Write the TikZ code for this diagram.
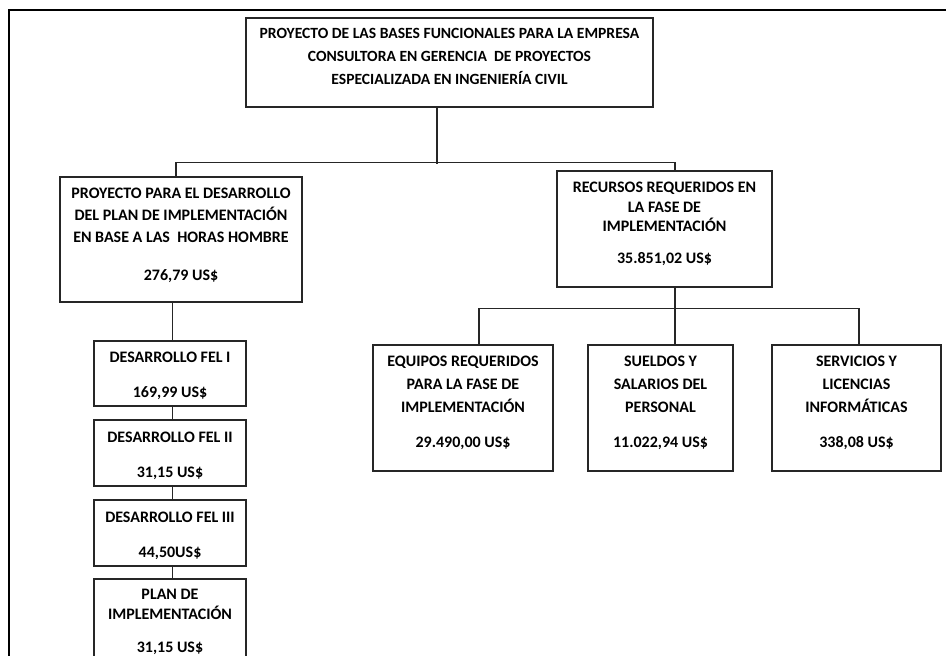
\documentclass[tikz,border=0pt]{standalone}
\usepackage{fontspec}
\setmainfont{Carlito}
\usetikzlibrary{positioning}
\newcommand{\lift}[1]{\rule[-#1]{0pt}{0pt}}
\newcommand{\drop}[1]{\rule{0pt}{#1}}

\begin{document}
\begin{tikzpicture}[
  x=1pt,y=-1pt,
  box/.style={draw=black!85,line width=1.2pt,fill=white,align=center,inner sep=0pt,
    font=\bfseries\fontsize{16}{22}\selectfont},
  link/.style={draw=black!85,line width=1.3pt},
  frame/.style={draw=black,line width=2pt}]
\path[use as bounding box] (0,0) rectangle (946,656);
\draw[frame] (960,10) -| (9,680);
% top of the tree
\node[box,minimum width=407pt,minimum height=89pt,font=\bfseries\fontsize{15.6}{23}\selectfont] (top) at (449.5,62.5)
  {PROYECTO DE LAS BASES FUNCIONALES PARA LA EMPRESA\\
   CONSULTORA EN GERENCIA\ \ DE PROYECTOS\\
   ESPECIALIZADA EN INGENIERÍA CIVIL\lift{12pt}};
\node[box,minimum width=242pt,minimum height=125pt] (horas) at (181,239.5)
  {PROYECTO PARA EL DESARROLLO\\
   DEL PLAN DE IMPLEMENTACIÓN\\
   EN BASE A LAS\ \ HORAS HOMBRE\\[16pt]
   276,79 US\$\lift{11pt}};
\node[box,minimum width=215pt,minimum height=116pt,font=\bfseries\fontsize{16}{19.5}\selectfont] (recursos) at (664.5,229)
  {RECURSOS REQUERIDOS EN\\
   LA FASE DE\\
   IMPLEMENTACIÓN\\[12.5pt]
   35.851,02 US\$\lift{12pt}};
% resources
\node[box,minimum width=180pt,minimum height=126pt,font=\bfseries\fontsize{16}{23}\selectfont] (equipos) at (463,408)
  {EQUIPOS REQUERIDOS\\
   PARA LA FASE DE\\
   IMPLEMENTACIÓN\\[12pt]
   29.490,00 US\$\lift{12pt}};
\node[box,minimum width=145pt,minimum height=126pt,font=\bfseries\fontsize{16}{23}\selectfont] (sueldos) at (660.5,408)
  {SUELDOS Y\\
   SALARIOS DEL\\
   PERSONAL\\[12pt]
   11.022,94 US\$\lift{12pt}};
\node[box,minimum width=169pt,minimum height=126pt,font=\bfseries\fontsize{16}{23}\selectfont] (servicios) at (856.5,408)
  {SERVICIOS Y\\
   LICENCIAS\\
   INFORMÁTICAS\\[12pt]
   338,08 US\$\lift{12pt}};
% FEL phases
\node[box,minimum width=152pt,minimum height=65pt] (fel1) at (170,373.5)
  {\drop{16pt}DESARROLLO FEL I\\[13pt]169,99 US\$};
\node[box,minimum width=152pt,minimum height=66pt] (fel2) at (170,453)
  {\drop{16pt}DESARROLLO FEL II\\[13pt]31,15 US\$};
\node[box,minimum width=152pt,minimum height=66pt] (fel3) at (170,533)
  {\drop{16pt}DESARROLLO FEL III\\[13pt]44,50US\$};
\node[box,minimum width=152pt,minimum height=90pt] (plan) at (170,624)
  {PLAN DE\\[-2pt]
   IMPLEMENTACIÓN\\[11pt]
   31,15 US\$\lift{6pt}};
% connectors
\draw[link] ([xshift=-12.5pt]top.south) -- ++(0,56);
\draw[link] ([xshift=-5pt]horas.north) -- ++(0,-14) -| ([xshift=10.5pt]recursos.north);
\draw[link] ([xshift=10.5pt]recursos.south) -- ([xshift=14.5pt]sueldos.north);
\draw[link] ([xshift=16pt]equipos.north) -- ++(0,-36) -| ([xshift=2.5pt]servicios.north);
\draw[link] ([xshift=-8.5pt]horas.south) -- ([xshift=2.5pt]fel1.north);
\foreach \a/\b in {fel1/fel2,fel2/fel3,fel3/plan}
  \draw[link] ([xshift=2.5pt]\a.south) -- ([xshift=2.5pt]\b.north);
\end{tikzpicture}
\end{document}
